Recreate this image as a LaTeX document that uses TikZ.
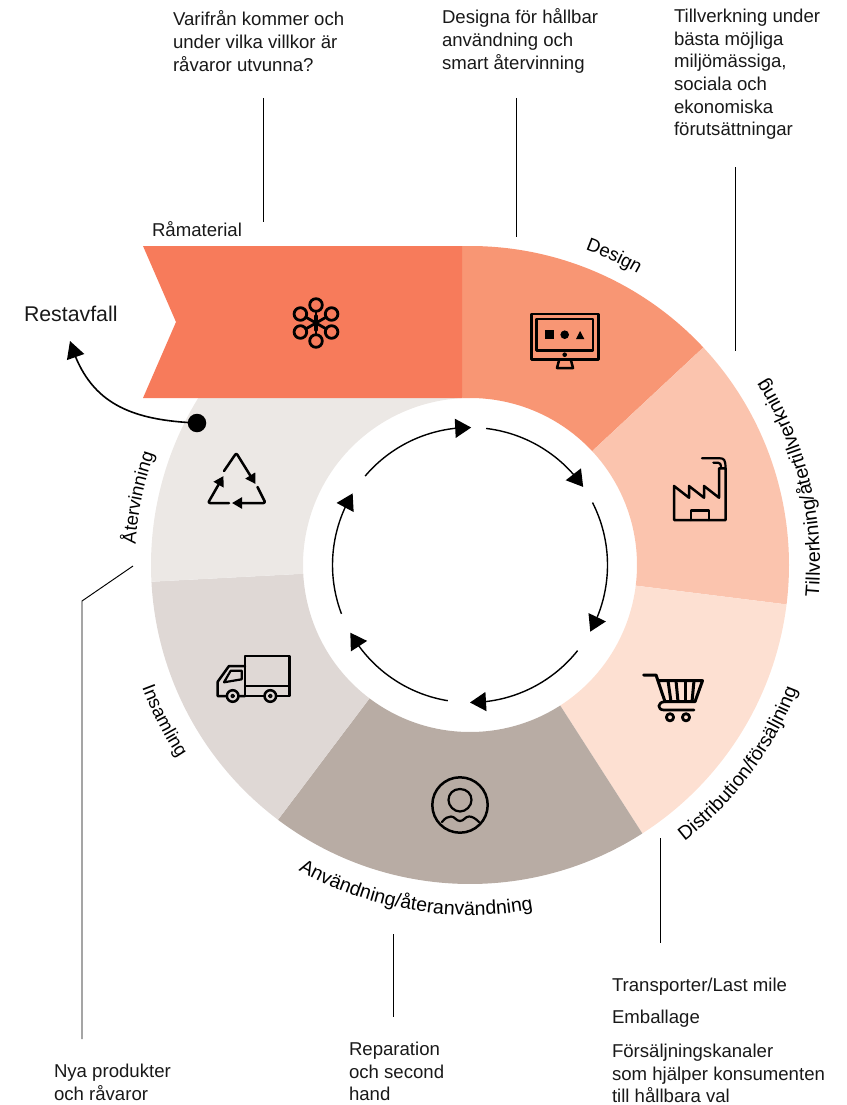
\documentclass[tikz,border=0pt]{standalone}
\usepackage{fontspec}
\setmainfont{Liberation Sans}
\usetikzlibrary{arrows.meta,bending,decorations.text}
\definecolor{cRaw}{HTML}{F77B5B}
\definecolor{cDes}{HTML}{F89674}
\definecolor{cMan}{HTML}{FBC4AE}
\definecolor{cDis}{HTML}{FDE0D2}
\definecolor{cUse}{HTML}{B8ACA4}
\definecolor{cCol}{HTML}{DFD8D5}
\definecolor{cRec}{HTML}{ECE8E5}
\newcommand{\lblfont}{\fontsize{18.6}{22.7}\selectfont}
\newcommand{\segm}[3]{\fill[#1] ([shift={(470,-565)}]#2:319) arc[start angle=#2,end angle=#3,radius=319] -- ([shift={(470,-565)}]#3:167) arc[start angle=#3,end angle=#2,radius=167] -- cycle;}
\newcommand{\cyc}[2]{\coordinate (#1) at ([shift={(470,-565)}]#2:137.5);}
\newcommand{\curvetext}[5]{\path[decorate,decoration={text along path,text align=center,text={|\fontsize{#4}{22.7}\selectfont|#5}}] ([shift={(470,-565)}]#1:#3) arc[start angle=#1,end angle=#2,radius=#3];}
\tikzset{
  txt/.style={anchor=north west,inner sep=0pt,outer sep=0pt,align=left,font=\lblfont,text=black!90},
  leader/.style={draw=black,line width=0.95pt},
  cycarrow/.style={draw=black,line width=1.4pt,-{Triangle[length=16pt,width=19pt,flex]}},
  icon/.style={draw=black,line width=2.5pt,line join=round,line cap=round},
}
\begin{document}
\begin{tikzpicture}[x=1pt,y=1pt]
\useasboundingbox (0,0) rectangle (846,-1105);
% ring segments
\fill[cDes] (462,-246) -- (470,-246) arc[start angle=90,end angle=43,radius=319] -- ([shift={(470,-565)}]43:167) arc[start angle=43,end angle=90,radius=167] -- (462,-398) -- cycle;
\segm{cMan}{43}{-7.1}
\segm{cDis}{-7.1}{-57.3}
\segm{cUse}{-57.3}{-127}
\segm{cCol}{233}{183}
\fill[cRec] ([shift={(470,-565)}]183:319) arc[start angle=183,end angle=148.4,radius=319] -- (470,-398) arc[start angle=90,end angle=183,radius=167] -- cycle;
\fill[cRaw] (143,-246) -- (462,-246) -- (462,-398) -- (143,-398) -- (176,-322) -- cycle;
% inner cycle arrows
\cyc{a1}{83.3}\cyc{a2}{27}\cyc{a3}{-38.5}\cyc{a4}{-99.3}\cyc{a5}{200.8}\cyc{a6}{139.7}
\draw[cycarrow] (a1) arc[start angle=83.3,end angle=34.6,radius=137.5];
\draw[cycarrow] (a2) arc[start angle=27,end angle=-29,radius=137.5];
\draw[cycarrow] (a3) arc[start angle=-38.5,end angle=-90,radius=137.5];
\draw[cycarrow] (a4) arc[start angle=-99.3,end angle=-150.5,radius=137.5];
\draw[cycarrow] (a5) arc[start angle=200.8,end angle=148.6,radius=137.5];
\draw[cycarrow] (a6) arc[start angle=139.7,end angle=89.5,radius=137.5];
% Restavfall
\node[circle,fill=black,inner sep=0pt,minimum size=18.5pt] (dot) at (197,-423) {};
\coordinate (restip) at (70,-341);
\draw[line width=1.6pt,-{Triangle[length=17pt,width=18pt,flex]}] (dot.center) .. controls (128,-420) and (88,-402) .. (restip);
\node[txt,font=\fontsize{21.3}{24}\selectfont] (rest) at (24,-306) {Restavfall};
% leaders
\coordinate (l1a) at (263,-98);\coordinate (l1b) at (263,-222);
\coordinate (l2a) at (516,-98);\coordinate (l2b) at (516,-237);
\coordinate (l3a) at (735,-167);\coordinate (l3b) at (735,-351);
\coordinate (l4a) at (660,-838);\coordinate (l4b) at (660,-943);
\coordinate (l5a) at (393,-934);\coordinate (l5b) at (393,-1017);
\coordinate (l6a) at (133,-566);\coordinate (l6b) at (82,-601);\coordinate (l6c) at (82,-1039);
\draw[leader] (l1a) -- (l1b);
\draw[leader] (l2a) -- (l2b);
\draw[leader] (l3a) -- (l3b);
\draw[leader] (l4a) -- (l4b);
\draw[leader] (l5a) -- (l5b);
\draw[leader] (l6a) -- (l6b) -- (l6c);
% text blocks
\node[txt] (t1) at (173,-11) {Varifrån kommer och\\under vilka villkor är\\råvaror utvunna?};
\node[txt] (t2) at (442,-9) {Designa för hållbar\\användning och\\smart återvinning};
\node[txt] (t3) at (674,-9) {Tillverkning under\\bästa möjliga\\miljömässiga,\\sociala och\\ekonomiska\\förutsättningar};
\node[txt] (t4) at (612,-978) {Transporter/Last mile};
\node[txt] (t5) at (612,-1010) {Emballage};
\node[txt] (t6) at (612,-1044) {Försäljningskanaler\\som hjälper konsumenten\\till hållbara val};
\node[txt] (t7) at (349,-1042) {Reparation\\och second\\hand};
\node[txt] (t8) at (54,-1064) {Nya produkter\\och råvaror};
\node[txt] (t9) at (152,-222) {Råmaterial};
% curved labels
\curvetext{110}{20}{336}{18.6}{Design}
\curvetext{-32.5}{59.5}{350}{19.5}{Tillverkning/återtillverkning}
\curvetext{-81.5}{8.5}{350}{19.5}{Distribution/försäljning}
\curvetext{200.5}{320.5}{350}{19.5}{Användning/återanvändning}
\curvetext{169.5}{244.5}{350}{18.6}{Insamling}
\curvetext{211}{126}{335}{18.6}{Återvinning}
% flower icon
\begin{scope}[shift={(316,-323)}]
\foreach \an in {90,150,210,270,330,30}{
 \draw[icon,line width=2.8pt] (\an:18) circle[radius=6.3];
 \draw[icon,line width=2.8pt] (0,0) -- (\an:11.7);
}
\draw[icon,line width=3.4pt] (0,7) -- (0,-7);
\end{scope}
% monitor icon
\draw[icon] (531.7,-314) rectangle (598.3,-359.3);
\draw[icon] (536.7,-319) rectangle (593,-350.3);
\fill (545,-330) rectangle (553.7,-338.7);
\fill (564.7,-334.7) circle[radius=4.3];
\fill (576,-339) -- (584.3,-339) -- (580.1,-331) -- cycle;
\fill (564.7,-354.7) circle[radius=2.3];
\draw[icon] (559.3,-359.3) -- (557,-368) -- (573,-368) -- (570.7,-359.3);
% factory icon
\draw[icon] (674,-520) -- (674,-486) -- (689,-497.7) -- (689,-486) -- (704,-497.7) -- (704,-486) -- (719,-497.7) -- (719,-468.3) -- (725.7,-468.3) -- (725.7,-520) -- cycle;
\draw[icon] (691,-520) -- (691,-510.7) -- (709,-510.7) -- (709,-520);
\draw[icon,line width=2.2pt] (702,-458.3) -- (720,-458.3) .. controls (724,-458.3) and (725.5,-460) .. (725.5,-468);
\draw[icon,line width=2.2pt] (713.3,-462.7) -- (718,-462.7) .. controls (720,-462.7) and (721,-464) .. (721,-468);
% cart icon
\draw[icon,line width=3pt] (643.5,-675) -- (656,-675) -- (665,-701.7) -- (695,-701.7) -- (702.5,-680.7) -- (658,-680.7);
\foreach \xa/\xb in {668/671,676/678,685/685,694/692}{\draw[icon,line width=3pt,line cap=butt] (\xa,-680.7) -- (\xb,-701.7);}
\draw[icon,line width=2.7pt] (665,-701.7) .. controls (657,-702) and (657,-710) .. (664,-710) -- (694,-710);
\draw[icon,line width=2.8pt] (670,-717.3) circle[radius=3.6];
\draw[icon,line width=2.8pt] (686,-717.3) circle[radius=3.6];
% recycle icon
\tikzset{rarr/.style={icon,rounded corners=2pt,-{Triangle[length=10pt,width=11pt]}}}
\draw[rarr] (224,-471) -- (236.3,-453) -- (255.5,-484);
\draw[rarr] (257.5,-487) -- (265.5,-503) -- (232,-503);
\draw[rarr] (229,-503) -- (208,-503) -- (223.5,-476);
% truck icon
\draw[icon] (245,-696) -- (245,-656) -- (289.3,-656) -- (289.3,-696) -- cycle;
\draw[icon] (245,-686) -- (289.3,-686);
\draw[icon] (245,-666) -- (229,-666) -- (217.7,-681.7) -- (217.7,-696) -- (245,-696);
\draw[icon,line width=2.2pt] (230.7,-670.7) -- (241.7,-670.7) -- (241.7,-679.3) -- (224,-682.3) -- cycle;
\foreach \wx in {232.7,270.3}{
\draw[icon,fill=cCol] (\wx,-696) circle[radius=5.8];
\draw[icon,line width=1.6pt] (\wx,-696) circle[radius=1.6];}
% person icon
\draw[icon] (460,-805) circle[radius=27.7];
\draw[icon,line width=2.2pt] (460,-789) .. controls (467,-789) and (471.5,-794) .. (471.5,-800) .. controls (471.5,-806) and (466,-811.5) .. (460,-811.5) .. controls (454,-811.5) and (448.5,-806) .. (448.5,-800) .. controls (448.5,-794) and (453,-789) .. (460,-789) -- cycle;
\draw[icon,line width=2.2pt] (442,-822) .. controls (445,-818) and (448,-816.5) .. (451,-816.5) .. controls (455,-816.5) and (456,-821) .. (460,-821) .. controls (464,-821) and (465,-816.5) .. (469,-816.5) .. controls (472,-816.5) and (475,-818) .. (479,-822);
\end{tikzpicture}
\end{document}
